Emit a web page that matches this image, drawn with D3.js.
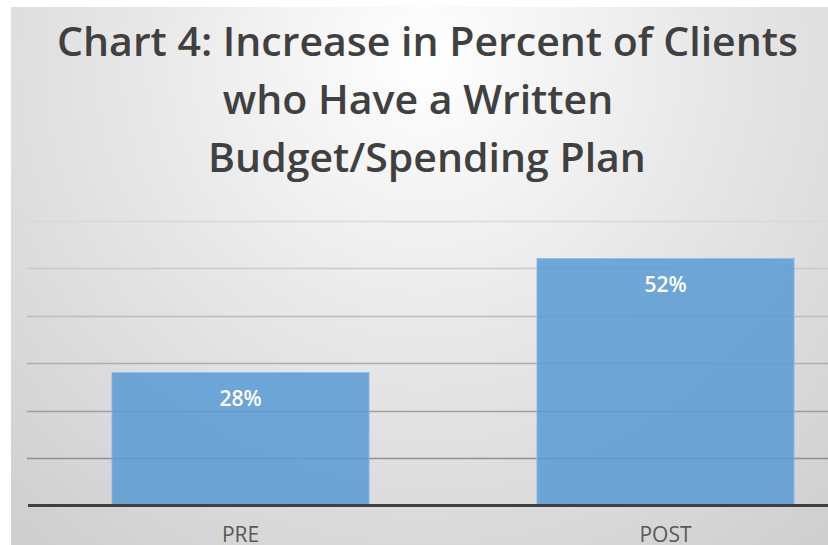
<!DOCTYPE html>
<html>
<head>
<meta charset="utf-8">
<script src="https://cdn.jsdelivr.net/npm/d3@7"></script>
<style>
  html, body { margin: 0; padding: 0; background: #ffffff; }
  svg { display: block; }
</style>
</head>
<body>
<script>
const titleLines = ["Chart 4: Increase in Percent of Clients", "who Have a Written", "Budget/Spending Plan"];
const categories = ["PRE", "POST"];
const values = [28, 52];
const valueLabels = ["28%", "52%"];
const yTicks = [0, 10, 20, 30, 40, 50, 60];

const W = 828, H = 545;
const svg = d3.select("body").append("svg").attr("width", W).attr("height", H);
const defs = svg.append("defs");

const bg = defs.append("radialGradient").attr("id", "bg")
  .attr("gradientUnits", "userSpaceOnUse")
  .attr("cx", 425).attr("cy", 60).attr("r", 620)
  .attr("fx", 425).attr("fy", 60);
bg.append("stop").attr("offset", "0").attr("stop-color", "#ffffff");
bg.append("stop").attr("offset", "0.45").attr("stop-color", "#e8e8e8");
bg.append("stop").attr("offset", "1").attr("stop-color", "#cfcfcf");

const gg = defs.append("linearGradient").attr("id", "grid")
  .attr("gradientUnits", "userSpaceOnUse")
  .attr("x1", 0).attr("y1", 215).attr("x2", 0).attr("y2", 465);
gg.append("stop").attr("offset", "0").attr("stop-color", "#dadada");
gg.append("stop").attr("offset", "1").attr("stop-color", "#8e8e8e");

svg.append("rect").attr("x", 11).attr("y", 7).attr("width", W - 11).attr("height", H - 7)
  .attr("fill", "url(#bg)");

// scales
const x = d3.scaleBand().domain(categories).range([28, 878]).paddingInner(0.395).paddingOuter(0.1975);
const y = d3.scaleLinear().domain([0, 60]).range([505.5, 220.5]);

// gridlines
svg.append("g").selectAll("line").data(yTicks.filter(d => d > 0)).join("line")
  .attr("x1", 27).attr("x2", 880)
  .attr("y1", d => Math.round(y(d)) + 0.5).attr("y2", d => Math.round(y(d)) + 0.5)
  .attr("stroke", "url(#grid)").attr("stroke-width", 1.5);

// bars
svg.append("g").selectAll("rect").data(categories).join("rect")
  .attr("x", d => x(d))
  .attr("y", (d, i) => y(values[i]))
  .attr("width", x.bandwidth())
  .attr("height", (d, i) => y(0) - y(values[i]))
  .attr("fill", "#5b9bd5").attr("fill-opacity", 0.86)
  .attr("stroke", "#8fbce6").attr("stroke-width", 1).attr("stroke-opacity", 0.8);

// baseline
svg.append("line").attr("x1", 28).attr("x2", 880)
  .attr("y1", y(0)).attr("y2", y(0))
  .attr("stroke", "#404040").attr("stroke-width", 3);

// data labels
svg.append("g").selectAll("text").data(categories).join("text")
  .attr("x", d => x(d) + x.bandwidth() / 2)
  .attr("y", (d, i) => y(values[i]) + 33)
  .attr("text-anchor", "middle")
  .attr("font-family", "'Open Sans', sans-serif")
  .attr("font-weight", 600)
  .attr("font-size", 21)
  .attr("fill", "#ffffff")
  .text((d, i) => valueLabels[i]);

// category labels
const xAxisG = svg.append("g").attr("transform", `translate(0,${y(0)})`)
  .call(d3.axisBottom(x).tickSize(0).tickPadding(0));
xAxisG.select(".domain").remove();
xAxisG.selectAll("text")
  .attr("dy", null)
  .attr("y", 36.5)
  .attr("font-family", "'Open Sans', sans-serif")
  .attr("font-size", 21)
  .attr("fill", "#595959");

// title
const titleCx = [427.5, 418, 427];
const titleBase = [56, 114, 172];
const tl = svg.append("g").selectAll("g").data(titleLines).join("g")
  .attr("transform", (d, i) => `translate(${titleCx[i]},${titleBase[i]})`);
const tt = tl.append("text")
  .attr("text-anchor", "middle")
  .attr("font-family", "'Open Sans', sans-serif")
  .attr("font-weight", 600)
  .attr("font-size", 39)
  .attr("fill", "#404040")
  .text(d => d);
const w0 = tt.nodes()[0].getComputedTextLength();
const s = 741 / w0;
tl.attr("transform", (d, i) => `translate(${titleCx[i]},${titleBase[i]}) scale(${s},1)`);
</script>
</body>
</html>
